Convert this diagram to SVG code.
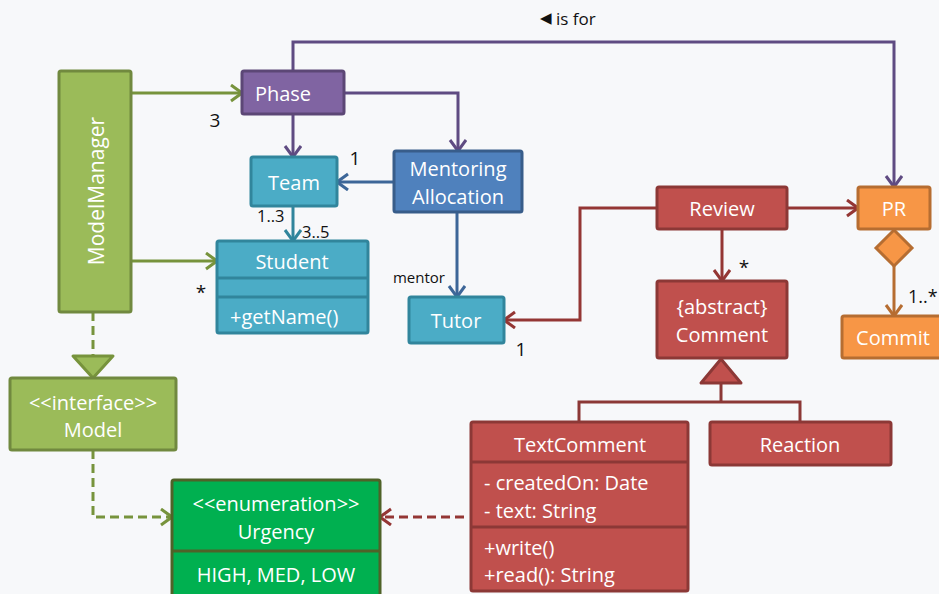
<svg xmlns="http://www.w3.org/2000/svg" width="939" height="594" viewBox="0 0 939 594">
<style>
text{font-family:"Open Sans","Noto Sans",sans-serif;}
.nt{fill:#fff;font-size:20px;text-anchor:middle;dominant-baseline:central;}
.at{fill:#fff;font-size:20px;dominant-baseline:central;}
.lb{fill:#111;font-size:19px;dominant-baseline:central;}
.sl{fill:#111;font-size:15px;dominant-baseline:central;}
.box{stroke-width:3;}
.c{fill:none;stroke-width:3;}
.dash{stroke-dasharray:9 5;}
</style>
<defs>
<marker id="aG" markerUnits="userSpaceOnUse" markerWidth="14" markerHeight="20" refX="12" refY="9" orient="auto"><path d="M1,1 L12,9 L1,17" fill="none" stroke="#77933c" stroke-width="3"/></marker>
<marker id="aP" markerUnits="userSpaceOnUse" markerWidth="14" markerHeight="20" refX="12" refY="9" orient="auto"><path d="M1,1 L12,9 L1,17" fill="none" stroke="#5f4b82" stroke-width="3"/></marker>
<marker id="aT" markerUnits="userSpaceOnUse" markerWidth="14" markerHeight="20" refX="12" refY="9" orient="auto"><path d="M1,1 L12,9 L1,17" fill="none" stroke="#31859c" stroke-width="3"/></marker>
<marker id="aB" markerUnits="userSpaceOnUse" markerWidth="14" markerHeight="20" refX="12" refY="9" orient="auto"><path d="M1,1 L12,9 L1,17" fill="none" stroke="#3d6698" stroke-width="3"/></marker>
<marker id="aR" markerUnits="userSpaceOnUse" markerWidth="14" markerHeight="20" refX="12" refY="9" orient="auto"><path d="M1,1 L12,9 L1,17" fill="none" stroke="#943634" stroke-width="3"/></marker>
<marker id="aO" markerUnits="userSpaceOnUse" markerWidth="14" markerHeight="20" refX="12" refY="9" orient="auto"><path d="M1,1 L12,9 L1,17" fill="none" stroke="#b66d31" stroke-width="3"/></marker>
</defs>
<rect x="0" y="0" width="939" height="594" fill="#f7f8fa"/>

<g id="connectors">
<path class="c" stroke="#77933c" d="M131,93 H242" marker-end="url(#aG)"/>
<path class="c" stroke="#77933c" d="M131,261 H217" marker-end="url(#aG)"/>
<path class="c dash" stroke="#77933c" d="M93,312 V356"/>
<polygon points="73,356 113,356 93,378" fill="#9bbb59" stroke="#77933c" stroke-width="3" stroke-linejoin="round"/>
<path class="c dash" stroke="#77933c" d="M93,450 V517 H172" marker-end="url(#aG)"/>
<path class="c" stroke="#5f4b82" d="M293,114 V157" marker-end="url(#aP)"/>
<path class="c" stroke="#5f4b82" d="M344,93 H458 V151" marker-end="url(#aP)"/>
<path class="c" stroke="#5f4b82" d="M293,71 V42 H894 V187" marker-end="url(#aP)"/>
<path class="c" stroke="#3d6698" d="M394,182 H337" marker-end="url(#aB)"/>
<path class="c" stroke="#3d6698" d="M457,212 V297" marker-end="url(#aB)"/>
<path class="c" stroke="#31859c" d="M293,206 V241" marker-end="url(#aT)"/>
<path class="c" stroke="#943634" d="M657,208 H580 V320 H504" marker-end="url(#aR)"/>
<path class="c" stroke="#943634" d="M787,208 H858" marker-end="url(#aR)"/>
<path class="c" stroke="#943634" d="M722,229 V281" marker-end="url(#aR)"/>
<polygon points="701,383 741,383 721,359" fill="#c0504d" stroke="#8c3836" stroke-width="3" stroke-linejoin="round"/>
<path class="c" stroke="#8c3836" d="M721,383 V402 M579,422 V402 H800 V422"/>
<polygon points="894,230 912,248 894,266 876,248" fill="#f79646" stroke="#b66d31" stroke-width="3"/>
<path class="c" stroke="#b66d31" d="M894,266 V316" marker-end="url(#aO)"/>
<path class="c dash" stroke="#943634" d="M464,517 H380" marker-end="url(#aR)"/>
</g>

<g id="labels">
<text class="lb" x="215" y="120" text-anchor="middle">3</text>
<text class="lb" x="355" y="158" text-anchor="middle">1</text>
<text class="sl" x="257" y="215" style="font-size:16.5px">1..3</text>
<text class="sl" x="302" y="231" style="font-size:16.5px">3..5</text>
<text class="lb" x="201" y="292" text-anchor="middle">*</text>
<text class="sl" x="445" y="277" text-anchor="end">mentor</text>
<text class="lb" x="521" y="349" text-anchor="middle">1</text>
<text class="lb" x="744" y="267" text-anchor="middle">*</text>
<text class="lb" x="908" y="296" style="font-size:18px">1..*</text>
<text class="sl" x="540" y="18" style="font-size:17px"><tspan style="font-family:'DejaVu Sans';font-size:15px">◀</tspan> is for</text>
</g>

<g id="ModelManager">
<rect class="box" x="59" y="71" width="72" height="241" fill="#9bbb59" stroke="#71893f" rx="2"/>
<text class="nt" transform="translate(96,191) rotate(-90)" x="0" y="0" style="font-size:21px">ModelManager</text>
</g>
<g id="Model">
<rect class="box" x="10" y="378" width="166" height="72" fill="#9bbb59" stroke="#71893f" rx="2"/>
<text class="nt" x="93" y="402">&lt;&lt;interface&gt;&gt;</text>
<text class="nt" x="93" y="429">Model</text>
</g>
<g id="Urgency">
<rect class="box" x="172" y="480" width="208" height="122" fill="#00b050" stroke="#4f6228" rx="2"/>
<line x1="172" y1="551" x2="380" y2="551" stroke="#4f6228" stroke-width="3"/>
<text class="nt" x="276" y="503">&lt;&lt;enumeration&gt;&gt;</text>
<text class="nt" x="276" y="531">Urgency</text>
<text class="nt" x="276" y="574">HIGH, MED, LOW</text>
</g>
<g id="Phase">
<rect class="box" x="242" y="71" width="102" height="43" fill="#8064a2" stroke="#5c4776" rx="2"/>
<text class="nt" x="283" y="93">Phase</text>
</g>
<g id="Team">
<rect class="box" x="251" y="157" width="86" height="49" fill="#4bacc6" stroke="#31859c" rx="2"/>
<text class="nt" x="294" y="182">Team</text>
</g>
<g id="MentoringAllocation">
<rect class="box" x="394" y="151" width="128" height="61" fill="#4f81bd" stroke="#385d8a" rx="2"/>
<text class="nt" x="458" y="168">Mentoring</text>
<text class="nt" x="458" y="196">Allocation</text>
</g>
<g id="Student">
<rect class="box" x="217" y="241" width="151" height="92" fill="#4bacc6" stroke="#31859c" rx="2"/>
<line x1="217" y1="278" x2="368" y2="278" stroke="#31859c" stroke-width="3"/>
<line x1="217" y1="297" x2="368" y2="297" stroke="#31859c" stroke-width="3"/>
<text class="nt" x="292" y="261">Student</text>
<text class="at" x="230" y="316">+getName()</text>
</g>
<g id="Tutor">
<rect class="box" x="409" y="297" width="95" height="46" fill="#4bacc6" stroke="#31859c" rx="2"/>
<text class="nt" x="456" y="320">Tutor</text>
</g>
<g id="Review">
<rect class="box" x="657" y="187" width="130" height="42" fill="#c0504d" stroke="#8c3836" rx="2"/>
<text class="nt" x="722" y="208">Review</text>
</g>
<g id="Comment">
<rect class="box" x="657" y="281" width="130" height="77" fill="#c0504d" stroke="#8c3836" rx="2"/>
<text class="nt" x="722" y="306">{abstract}</text>
<text class="nt" x="722" y="334">Comment</text>
</g>
<g id="PR">
<rect class="box" x="858" y="187" width="72" height="42" fill="#f79646" stroke="#b66d31" rx="2"/>
<text class="nt" x="894" y="208">PR</text>
</g>
<g id="Commit">
<rect class="box" x="842" y="316" width="105" height="42" fill="#f79646" stroke="#b66d31" rx="2"/>
<text class="nt" x="893" y="337">Commit</text>
</g>
<g id="TextComment">
<rect class="box" x="471" y="422" width="217" height="169" fill="#c0504d" stroke="#8c3836" rx="2"/>
<line x1="471" y1="462" x2="688" y2="462" stroke="#8c3836" stroke-width="3"/>
<line x1="471" y1="527" x2="688" y2="527" stroke="#8c3836" stroke-width="3"/>
<text class="nt" x="580" y="444">TextComment</text>
<text class="at" x="484" y="482">- createdOn: Date</text>
<text class="at" x="484" y="510">- text: String</text>
<text class="at" x="484" y="547">+write()</text>
<text class="at" x="484" y="574">+read(): String</text>
</g>
<g id="Reaction">
<rect class="box" x="710" y="422" width="181" height="43" fill="#c0504d" stroke="#8c3836" rx="2"/>
<text class="nt" x="800" y="444">Reaction</text>
</g>
</svg>
